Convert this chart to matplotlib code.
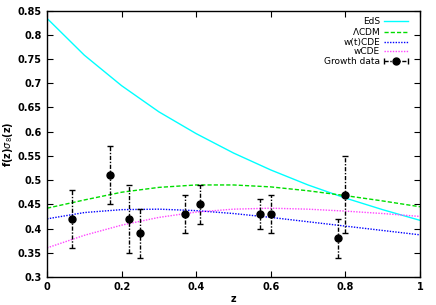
import matplotlib
matplotlib.use('Agg')
import matplotlib.pyplot as plt
from matplotlib.lines import Line2D
from matplotlib.legend_handler import HandlerBase

# model curves at z = 0, 0.1, ..., 1
z_curve = [0.0, 0.1, 0.2, 0.3, 0.4, 0.5, 0.6, 0.7, 0.8, 0.9, 1.0]
eds = [0.834, 0.758, 0.695, 0.641, 0.596, 0.556, 0.521, 0.490, 0.463, 0.439, 0.417]
lcdm = [0.442, 0.459, 0.475, 0.485, 0.490, 0.490, 0.486, 0.478, 0.468, 0.457, 0.445]
wtcde = [0.420, 0.433, 0.439, 0.440, 0.437, 0.431, 0.423, 0.414, 0.405, 0.396, 0.387]
wcde = [0.360, 0.386, 0.407, 0.423, 0.434, 0.440, 0.442, 0.440, 0.436, 0.431, 0.425]

# growth data
z_data = [0.067, 0.17, 0.22, 0.25, 0.37, 0.41, 0.57, 0.60, 0.78, 0.80]
fs8 = [0.42, 0.51, 0.42, 0.39, 0.43, 0.45, 0.43, 0.43, 0.38, 0.47]
fs8_err = [0.06, 0.06, 0.07, 0.05, 0.04, 0.04, 0.03, 0.04, 0.04, 0.08]

dashdot = (0, (3, 1.2, 1, 1.2))


class GnuplotErrorKey(HandlerBase):
    # horizontal bar with end caps and a dot in the middle, like gnuplot's key
    def create_artists(self, legend, orig_handle, xdescent, ydescent,
                       width, height, fontsize, trans):
        y = height / 2.0 - ydescent
        x0, x1 = -xdescent, width - xdescent
        bar = Line2D([x0, x1], [y, y], color='black', lw=1.0, ls=dashdot,
                     transform=trans)
        caps = Line2D([x0, x1], [y, y], color='black', ls='none', marker='|',
                      ms=5, mew=1.0, transform=trans)
        dot = Line2D([(x0 + x1) / 2.0], [y], color='black', ls='none',
                     marker='o', ms=5, transform=trans)
        return [bar, caps, dot]


fig = plt.figure(figsize=(4.36, 3.05), dpi=100)
ax = fig.add_axes([0.108, 0.092, 0.855, 0.873])

ax.plot(z_curve, eds, color='#00ffff', lw=1.0, label='EdS')
ax.plot(z_curve, lcdm, color='#00dd00', lw=1.0, ls=(0, (3, 1.5)), label=r'$\Lambda$CDM')
ax.plot(z_curve, wtcde, color='#0000ff', lw=1.0, ls=(0, (1, 1)), label='w(t)CDE')
ax.plot(z_curve, wcde, color='#ff44ff', lw=1.0, ls=(0, (1, 1)), label='wCDE')
eb = ax.errorbar(z_data, fs8, yerr=fs8_err, fmt='o', color='black', ms=5,
                 ecolor='black', elinewidth=1.0, capsize=2.5, capthick=1.0)
eb[-1][0].set_linestyle(dashdot)

ax.set_xlim(0, 1)
ax.set_ylim(0.3, 0.85)
ax.set_xticks([0, 0.2, 0.4, 0.6, 0.8, 1])
ax.set_xticklabels(['0', '0.2', '0.4', '0.6', '0.8', '1'])
ax.set_yticks([0.3, 0.35, 0.4, 0.45, 0.5, 0.55, 0.6, 0.65, 0.7, 0.75, 0.8, 0.85])
ax.set_yticklabels(['0.3', '0.35', '0.4', '0.45', '0.5', '0.55', '0.6', '0.65',
                    '0.7', '0.75', '0.8', '0.85'])
ax.tick_params(direction='in', top=True, right=True, length=4, width=0.8,
               labelsize=7, pad=4)
for lab in ax.get_xticklabels() + ax.get_yticklabels():
    lab.set_fontweight('bold')
for s in ax.spines.values():
    s.set_linewidth(1.0)

ax.set_xlabel('z', fontsize=7, fontweight='bold', labelpad=1)
ax.set_ylabel(r'f(z)$\sigma_8$(z)', fontsize=7, fontweight='bold', labelpad=2)

data_key = Line2D([], [], color='black')
handles, labels = ax.get_legend_handles_labels()
handles.append(data_key)
labels.append('Growth data')
ax.legend(handles, labels, loc='upper right', frameon=False, markerfirst=False,
          fontsize=6.5, handlelength=2.6, handletextpad=0.5, labelspacing=0.05,
          borderaxespad=0.3, bbox_to_anchor=(0.985, 1.0),
          handler_map={data_key: GnuplotErrorKey()})

fig.savefig('out.png', dpi=100)
